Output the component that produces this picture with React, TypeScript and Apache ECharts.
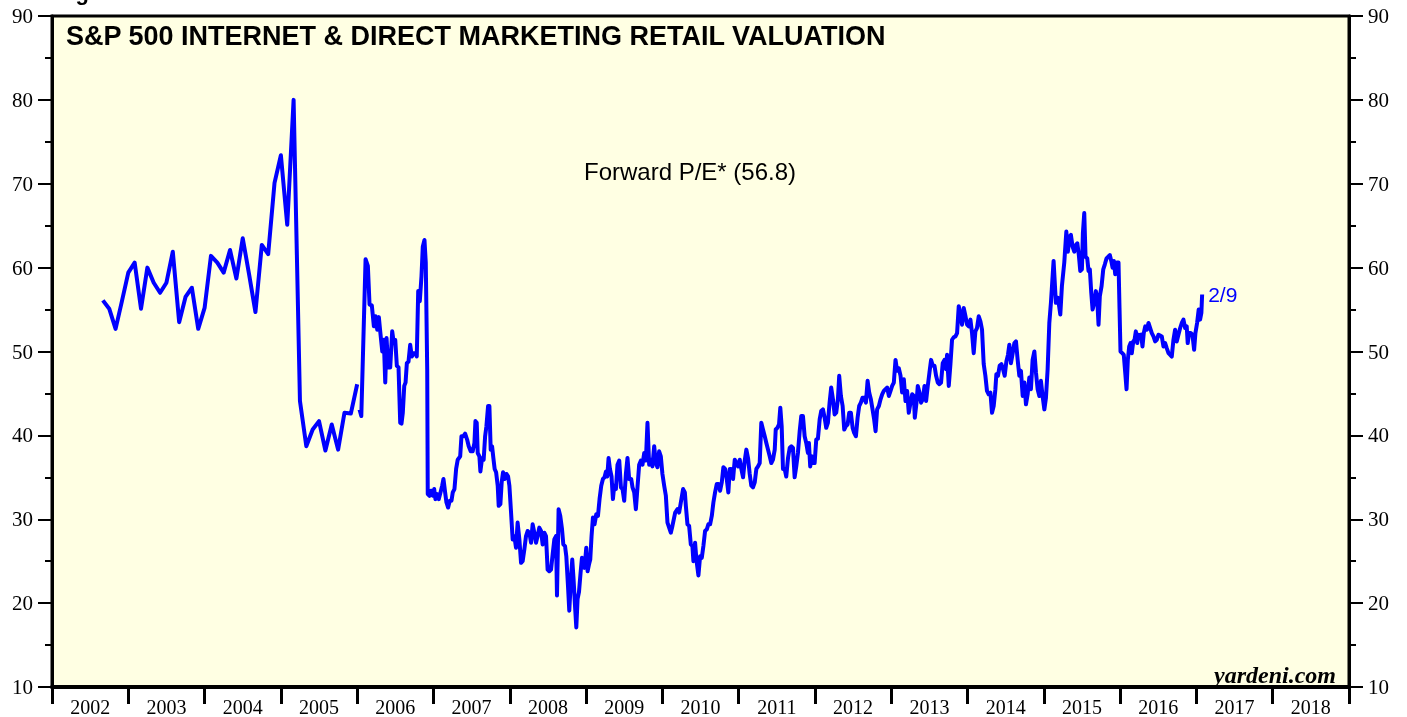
import React, { useEffect, useRef } from "react";
import * as echarts from "echarts";

const yearLabels = ["2002", "2003", "2004", "2005", "2006", "2007", "2008", "2009", "2010", "2011", "2012", "2013", "2014", "2015", "2016", "2017", "2018"];

const titleText = "S&P 500 INTERNET & DIRECT MARKETING RETAIL VALUATION";
const seriesLabel = "Forward P/E* (56.8)";
const lastDateLabel = "2/9";
const sourceText = "yardeni.com";

// Monthly readings, Sep 2002 .. Jan 2006
const monthlyStartYear = 2002;
const monthlyStartMonth = 9;
const peMonthly = [56.1, 55.1, 52.7, 56.0, 59.4, 60.6, 55.1, 60.0, 58.2, 57.0, 58.2, 61.9, 53.5, 56.5, 57.6, 52.7, 55.2, 61.4, 60.6, 59.4, 62.1, 58.7, 63.5, 59.2, 54.7, 62.7, 61.6, 70.1, 73.4, 65.1, 80.0, 44.1, 38.7, 40.7, 41.7, 38.2, 41.3, 38.3, 42.7, 42.6, 46.1];

// Weekly readings [decimal year, forward P/E]
const pe2006 = [[2006.031, 43.1], [2006.054, 42.3], [2006.110, 61.0], [2006.140, 60.2], [2006.162, 55.6], [2006.192, 55.5], [2006.219, 53.0], [2006.241, 54.2], [2006.263, 52.6], [2006.284, 54.1], [2006.302, 52.4], [2006.329, 50.0], [2006.349, 51.4], [2006.368, 46.3], [2006.385, 51.6], [2006.407, 48.1], [2006.433, 48.1], [2006.459, 52.4], [2006.480, 51.0], [2006.499, 51.4], [2006.520, 48.3], [2006.542, 48.1], [2006.564, 41.5], [2006.581, 41.4], [2006.598, 42.7], [2006.617, 45.9], [2006.634, 46.3], [2006.651, 48.6], [2006.673, 48.8], [2006.695, 50.8], [2006.716, 49.4], [2006.738, 49.8], [2006.761, 49.8], [2006.781, 49.4], [2006.800, 57.2], [2006.821, 56.0], [2006.843, 59.0], [2006.860, 62.5], [2006.882, 63.3], [2006.899, 60.6], [2006.918, 47.9], [2006.925, 33.0], [2006.948, 32.8], [2006.970, 33.4], [2006.991, 32.8]];
const pe2007 = [[2007.009, 33.6], [2007.026, 32.4], [2007.048, 33.0], [2007.069, 32.4], [2007.092, 33.2], [2007.114, 34.0], [2007.131, 34.8], [2007.153, 33.2], [2007.170, 32.0], [2007.192, 31.4], [2007.213, 32.2], [2007.236, 32.2], [2007.253, 33.2], [2007.275, 33.6], [2007.297, 36.0], [2007.318, 37.1], [2007.350, 37.5], [2007.367, 39.9], [2007.393, 39.9], [2007.415, 40.2], [2007.441, 39.5], [2007.462, 38.7], [2007.488, 38.1], [2007.514, 38.1], [2007.537, 39.1], [2007.550, 41.7], [2007.567, 41.5], [2007.580, 37.9], [2007.602, 37.5], [2007.615, 35.7], [2007.637, 37.3], [2007.658, 37.1], [2007.677, 39.9], [2007.694, 41.1], [2007.716, 43.5], [2007.733, 43.5], [2007.750, 38.3], [2007.768, 38.7], [2007.785, 37.3], [2007.802, 36.0], [2007.821, 35.6], [2007.842, 34.0], [2007.855, 31.6], [2007.877, 31.8], [2007.894, 34.4], [2007.912, 35.6], [2007.933, 34.8], [2007.956, 35.4], [2007.978, 35.1], [2007.995, 34.0]];
const pe2008 = [[2008.017, 30.8], [2008.038, 27.6], [2008.060, 28.0], [2008.082, 26.6], [2008.103, 29.6], [2008.126, 27.6], [2008.148, 24.8], [2008.169, 25.0], [2008.191, 26.4], [2008.213, 28.0], [2008.234, 28.6], [2008.257, 28.4], [2008.279, 27.2], [2008.300, 29.4], [2008.322, 28.4], [2008.344, 27.2], [2008.365, 28.0], [2008.387, 29.0], [2008.410, 28.6], [2008.431, 27.0], [2008.453, 28.4], [2008.475, 28.0], [2008.496, 24.0], [2008.518, 23.8], [2008.541, 24.0], [2008.562, 25.8], [2008.584, 27.6], [2008.606, 28.0], [2008.619, 20.9], [2008.640, 31.2], [2008.662, 30.4], [2008.685, 28.8], [2008.702, 27.0], [2008.724, 26.8], [2008.741, 25.6], [2008.763, 22.1], [2008.780, 19.1], [2008.802, 22.9], [2008.819, 25.2], [2008.836, 22.9], [2008.855, 19.7], [2008.872, 17.1], [2008.889, 20.5], [2008.907, 21.3], [2008.928, 23.6], [2008.946, 25.4], [2008.963, 25.2], [2008.980, 24.2]];
const pe2009 = [[2009.003, 26.6], [2009.020, 23.8], [2009.038, 24.6], [2009.055, 25.2], [2009.072, 28.0], [2009.090, 30.2], [2009.111, 29.4], [2009.134, 30.6], [2009.156, 30.4], [2009.177, 32.4], [2009.199, 34.0], [2009.221, 34.8], [2009.242, 35.0], [2009.261, 35.7], [2009.278, 35.1], [2009.295, 37.3], [2009.313, 36.0], [2009.334, 35.1], [2009.352, 32.4], [2009.369, 34.0], [2009.391, 33.6], [2009.412, 36.5], [2009.435, 37.0], [2009.457, 33.8], [2009.478, 33.6], [2009.500, 32.2], [2009.522, 35.4], [2009.543, 37.3], [2009.565, 34.8], [2009.592, 34.8], [2009.609, 33.8], [2009.631, 33.2], [2009.653, 31.2], [2009.674, 33.8], [2009.696, 36.5], [2009.719, 37.0], [2009.740, 36.5], [2009.762, 37.9], [2009.784, 37.0], [2009.805, 41.5], [2009.827, 36.5], [2009.850, 37.1], [2009.870, 36.3], [2009.893, 38.7], [2009.915, 36.7], [2009.936, 36.2], [2009.958, 38.1], [2009.980, 37.5]];
const pe2010 = [[2010.001, 35.4], [2010.024, 34.0], [2010.046, 32.8], [2010.067, 29.6], [2010.111, 28.4], [2010.132, 29.2], [2010.168, 30.8], [2010.198, 31.2], [2010.220, 30.8], [2010.242, 32.0], [2010.272, 33.6], [2010.295, 33.2], [2010.308, 31.6], [2010.329, 29.4], [2010.351, 29.2], [2010.373, 27.0], [2010.394, 26.8], [2010.407, 25.0], [2010.429, 27.2], [2010.446, 25.2], [2010.473, 23.3], [2010.495, 25.6], [2010.517, 25.4], [2010.538, 26.8], [2010.560, 28.6], [2010.583, 28.8], [2010.603, 29.4], [2010.626, 29.4], [2010.648, 30.4], [2010.669, 32.0], [2010.691, 33.2], [2010.713, 34.2], [2010.734, 34.2], [2010.757, 33.4], [2010.779, 34.4], [2010.800, 36.2], [2010.822, 36.0], [2010.844, 34.8], [2010.865, 33.2], [2010.884, 36.0], [2010.904, 36.0], [2010.927, 34.8], [2010.949, 37.1], [2010.970, 36.7], [2010.992, 36.3]];
const pe2011 = [[2011.014, 37.1], [2011.035, 36.0], [2011.058, 35.0], [2011.080, 37.0], [2011.101, 38.3], [2011.123, 37.3], [2011.145, 35.4], [2011.166, 34.0], [2011.188, 33.8], [2011.211, 34.4], [2011.232, 36.0], [2011.254, 36.3], [2011.276, 36.7], [2011.297, 41.5], [2011.319, 40.7], [2011.342, 39.9], [2011.363, 39.1], [2011.385, 38.3], [2011.407, 37.5], [2011.428, 36.7], [2011.450, 37.1], [2011.473, 38.3], [2011.486, 40.7], [2011.507, 40.9], [2011.529, 41.3], [2011.546, 43.3], [2011.564, 41.1], [2011.581, 36.0], [2011.603, 36.0], [2011.624, 35.1], [2011.647, 37.3], [2011.669, 38.5], [2011.690, 38.7], [2011.712, 38.5], [2011.734, 35.0], [2011.755, 36.3], [2011.777, 37.9], [2011.800, 40.5], [2011.821, 42.3], [2011.843, 42.3], [2011.865, 39.9], [2011.886, 39.1], [2011.908, 37.9], [2011.921, 39.1], [2011.938, 36.3], [2011.957, 37.5], [2011.974, 36.7], [2011.996, 36.7]];
const pe2012 = [[2012.017, 39.5], [2012.039, 39.6], [2012.062, 41.9], [2012.082, 42.9], [2012.105, 43.1], [2012.127, 42.1], [2012.148, 40.9], [2012.170, 41.5], [2012.192, 43.9], [2012.213, 45.7], [2012.236, 44.3], [2012.258, 42.5], [2012.279, 42.7], [2012.301, 44.3], [2012.318, 47.1], [2012.340, 44.7], [2012.363, 43.5], [2012.384, 40.7], [2012.406, 41.1], [2012.428, 41.3], [2012.449, 42.7], [2012.471, 42.7], [2012.494, 40.9], [2012.514, 40.3], [2012.537, 39.9], [2012.559, 42.1], [2012.580, 43.5], [2012.602, 43.9], [2012.624, 44.5], [2012.645, 44.5], [2012.668, 43.9], [2012.690, 46.5], [2012.711, 45.1], [2012.733, 44.3], [2012.755, 43.1], [2012.776, 41.9], [2012.795, 40.5], [2012.815, 43.1], [2012.838, 43.5], [2012.860, 44.3], [2012.881, 44.9], [2012.903, 45.3], [2012.925, 45.5], [2012.946, 45.7], [2012.969, 44.7], [2012.991, 45.3]];
const pe2013 = [[2013.012, 45.9], [2013.034, 46.3], [2013.056, 49.0], [2013.077, 47.7], [2013.099, 48.0], [2013.122, 47.1], [2013.143, 45.1], [2013.165, 46.7], [2013.187, 44.1], [2013.208, 45.3], [2013.230, 42.7], [2013.253, 43.9], [2013.274, 44.9], [2013.296, 44.7], [2013.309, 42.1], [2013.331, 43.9], [2013.348, 45.9], [2013.370, 45.1], [2013.391, 43.9], [2013.414, 44.3], [2013.436, 45.9], [2013.457, 44.1], [2013.479, 45.9], [2013.501, 47.5], [2013.522, 49.0], [2013.545, 48.3], [2013.567, 48.3], [2013.588, 47.1], [2013.610, 46.3], [2013.632, 46.1], [2013.653, 46.3], [2013.675, 48.6], [2013.698, 49.0], [2013.719, 47.9], [2013.732, 49.6], [2013.754, 45.9], [2013.776, 48.5], [2013.797, 51.4], [2013.819, 51.7], [2013.842, 51.8], [2013.863, 52.2], [2013.885, 55.4], [2013.907, 54.4], [2013.928, 53.2], [2013.950, 55.2], [2013.973, 54.2], [2013.994, 53.2]];
const pe2014 = [[2014.016, 53.0], [2014.038, 53.8], [2014.059, 52.2], [2014.081, 49.8], [2014.103, 52.4], [2014.124, 52.8], [2014.147, 54.2], [2014.169, 53.6], [2014.190, 52.6], [2014.212, 48.5], [2014.234, 47.1], [2014.255, 45.3], [2014.277, 44.9], [2014.300, 45.1], [2014.321, 42.7], [2014.343, 43.5], [2014.365, 45.5], [2014.378, 47.3], [2014.399, 47.1], [2014.421, 48.3], [2014.444, 48.5], [2014.465, 47.9], [2014.487, 47.1], [2014.509, 48.8], [2014.530, 49.6], [2014.548, 50.8], [2014.569, 48.6], [2014.592, 49.8], [2014.614, 51.0], [2014.635, 51.2], [2014.657, 49.0], [2014.679, 47.1], [2014.700, 47.7], [2014.723, 44.7], [2014.745, 46.3], [2014.766, 43.7], [2014.788, 44.9], [2014.810, 46.9], [2014.831, 45.5], [2014.853, 49.0], [2014.876, 50.0], [2014.897, 47.5], [2014.919, 45.5], [2014.941, 44.7], [2014.962, 46.5], [2014.984, 44.7]];
const pe2015 = [[2015.007, 43.1], [2015.028, 44.5], [2015.050, 47.9], [2015.072, 53.4], [2015.093, 55.8], [2015.128, 60.8], [2015.158, 55.8], [2015.185, 56.4], [2015.216, 54.4], [2015.237, 57.8], [2015.268, 60.6], [2015.295, 64.3], [2015.315, 61.9], [2015.338, 63.7], [2015.355, 63.9], [2015.377, 62.5], [2015.399, 61.9], [2015.420, 62.7], [2015.439, 62.9], [2015.459, 61.5], [2015.478, 59.6], [2015.499, 59.8], [2015.512, 64.1], [2015.530, 66.5], [2015.547, 61.3], [2015.569, 61.1], [2015.586, 59.6], [2015.603, 59.8], [2015.622, 57.0], [2015.639, 55.0], [2015.661, 55.8], [2015.682, 57.2], [2015.700, 56.2], [2015.717, 53.2], [2015.734, 56.6], [2015.757, 57.8], [2015.779, 59.8], [2015.800, 60.4], [2015.822, 61.1], [2015.844, 61.3], [2015.865, 61.5], [2015.884, 60.8], [2015.901, 60.0], [2015.918, 60.8], [2015.936, 59.2], [2015.957, 60.6], [2015.979, 60.6], [2015.992, 55.2]];
const pe2016 = [[2016.005, 50.0], [2016.028, 49.8], [2016.048, 49.6], [2016.067, 47.5], [2016.084, 45.5], [2016.101, 49.0], [2016.119, 50.6], [2016.136, 51.0], [2016.153, 49.8], [2016.172, 51.2], [2016.189, 51.4], [2016.206, 52.4], [2016.224, 51.0], [2016.241, 52.0], [2016.258, 51.8], [2016.276, 52.0], [2016.293, 50.6], [2016.310, 52.2], [2016.329, 53.0], [2016.350, 52.6], [2016.372, 53.4], [2016.394, 52.8], [2016.415, 52.2], [2016.437, 51.8], [2016.459, 51.2], [2016.480, 51.4], [2016.503, 52.0], [2016.525, 51.9], [2016.546, 51.8], [2016.568, 50.6], [2016.590, 51.0], [2016.611, 50.4], [2016.634, 49.8], [2016.656, 49.6], [2016.677, 49.4], [2016.699, 51.4], [2016.721, 52.6], [2016.742, 51.2], [2016.764, 52.0], [2016.787, 52.8], [2016.808, 53.4], [2016.830, 53.8], [2016.852, 52.8], [2016.873, 53.0], [2016.886, 51.0], [2016.904, 52.2], [2016.925, 52.2], [2016.948, 52.0], [2016.970, 50.2], [2016.987, 52.2]];
const pe2017 = [[2017.009, 53.4], [2017.030, 55.0], [2017.048, 53.8], [2017.065, 54.6], [2017.075, 56.8]];

const BLUE = "#0000FF";
const BG = "#FFFFE3";
const serif = '"Liberation Serif", "Times New Roman", serif';
const sans = '"Liberation Sans", Arial, sans-serif';

export default function App() {
  const ref = useRef<HTMLDivElement>(null);

  useEffect(() => {
    if (!ref.current) return;
    const chart = echarts.init(ref.current, null, { renderer: "svg" });
    const monthlyData = peMonthly.map((v, i) => [monthlyStartYear + (monthlyStartMonth - 1 + i) / 12, v]);
    const weeklyData = [...pe2006, ...pe2007, ...pe2008, ...pe2009, ...pe2010, ...pe2011, ...pe2012, ...pe2013, ...pe2014, ...pe2015, ...pe2016, ...pe2017];

    const yAxisCommon = {
      type: "value",
      min: 10,
      max: 90,
      interval: 10,
      splitLine: { show: false },
      axisLine: { show: true, lineStyle: { color: "#000", width: 3 } },
      axisTick: { show: true, inside: false, length: 14, lineStyle: { color: "#000", width: 2 } },
      minorTick: { show: true, splitNumber: 2, length: 7, lineStyle: { color: "#000", width: 2 } },
      minorSplitLine: { show: false },
      axisLabel: { color: "#000", fontFamily: serif, fontSize: 21, margin: 19 },
    };

    chart.setOption({
      animation: false,
      grid: {
        left: 52,
        top: 16,
        width: 1297,
        height: 672,
        show: true,
        backgroundColor: BG,
        borderColor: "#000",
        borderWidth: 3,
        containLabel: false,
      },
      xAxis: [
        {
          type: "category",
          data: yearLabels,
          position: "bottom",
          boundaryGap: true,
          axisLine: { show: true, lineStyle: { color: "#000", width: 4 } },
          axisTick: { show: true, inside: false, length: 17, lineStyle: { color: "#000", width: 3 } },
          axisLabel: { color: "#000", fontFamily: serif, fontSize: 20, margin: 10 },
          splitLine: { show: false },
        },
        {
          type: "value",
          min: 2002,
          max: 2019,
          show: false,
        },
      ],
      yAxis: [
        { ...yAxisCommon, position: "left" },
        { ...yAxisCommon, position: "right" },
      ],
      series: [
        {
          type: "line",
          xAxisIndex: 1,
          yAxisIndex: 0,
          data: monthlyData,
          showSymbol: false,
          symbol: "none",
          lineStyle: { color: BLUE, width: 4, join: "round" },
          silent: true,
        },
        {
          type: "line",
          xAxisIndex: 1,
          yAxisIndex: 0,
          data: weeklyData,
          showSymbol: false,
          symbol: "none",
          lineStyle: { color: BLUE, width: 4, join: "round" },
          silent: true,
          endLabel: {
            show: true,
            formatter: lastDateLabel,
            color: BLUE,
            fontFamily: sans,
            fontSize: 21,
            distance: 6,
          },
        },
      ],
      graphic: [
        {
          type: "text",
          left: 56,
          top: -19,
          style: { text: "Figure 3.", font: `bold 22px ${sans}`, fill: "#000" },
        },
        {
          type: "text",
          left: 66,
          top: 22,
          style: { text: titleText, font: `bold 27px ${sans}`, fill: "#000" },
        },
        {
          type: "text",
          x: 690,
          y: 171,
          style: { text: seriesLabel, font: `24px ${sans}`, fill: "#000", align: "center", verticalAlign: "middle" },
        },
        {
          type: "text",
          x: 1336,
          y: 675,
          style: { text: sourceText, font: `italic bold 24px ${serif}`, fill: "#000", align: "right", verticalAlign: "middle" },
        },
      ],
    });
    return () => chart.dispose();
  }, []);

  return <div ref={ref} style={{ position: "fixed", left: 0, top: 0, width: 1407, height: 717 }} />;
}
